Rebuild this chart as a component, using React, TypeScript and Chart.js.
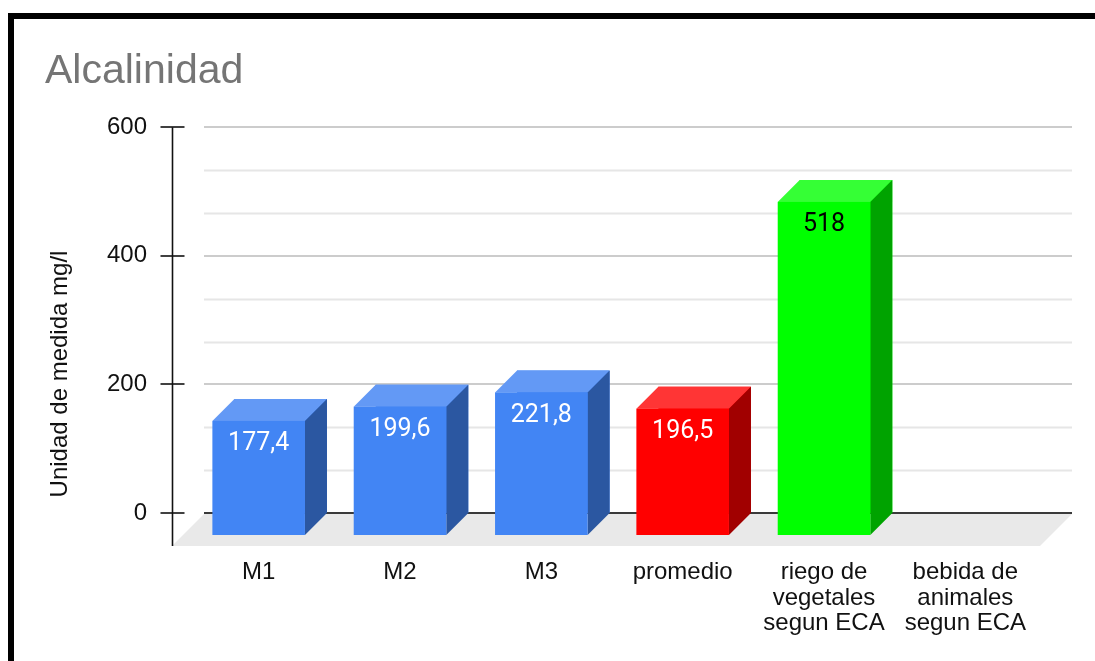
import React, { useEffect, useRef } from 'react';
import { Chart, registerables } from 'chart.js';

Chart.register(...registerables);

// ---- data ----
const chartTitle = 'Alcalinidad';
const yAxisTitle = 'Unidad de medida mg/l';
const categories: (string | string[])[] = [
  'M1',
  'M2',
  'M3',
  'promedio',
  ['riego de', 'vegetales', 'segun ECA'],
  ['bebida de', 'animales', 'segun ECA'],
];
const values: (number | null)[] = [177.4, 199.6, 221.8, 196.5, 518, null];
const yMin = 0;
const yMax = 600;
const yStep = 200;

// ---- colours ----
const frontColors = ['#4285F4', '#4285F4', '#4285F4', '#FF0000', '#00FF00', '#00FF00'];
const topColors = ['#6399F5', '#6399F5', '#6399F5', '#FF3535', '#35FF35', '#35FF35'];
const sideColors = ['#2B57A1', '#2B57A1', '#2B57A1', '#A10000', '#00A300', '#00A300'];
const labelColors = ['#FFFFFF', '#FFFFFF', '#FFFFFF', '#FFFFFF', '#000000', '#000000'];

const DEPTH = 22; // bar extrusion
const FLOOR = 32; // floor depth
const SANS = '"Liberation Sans", Arial, sans-serif';

const formatValue = (v: number) => String(v).replace('.', ',');

const threeDPlugin = {
  id: 'threeD',
  beforeDatasetsDraw(chart: any) {
    const { ctx, chartArea: ca } = chart;
    const y = chart.scales.y;
    const left = ca.left - 6;
    const right = ca.right + 14;
    const y0 = y.getPixelForValue(yMin);
    ctx.save();
    // minor gridlines
    const minorStep = yStep / 3;
    for (let v = yMin; v < yMax; v += yStep) {
      for (let k = 1; k < 3; k++) {
        const py = Math.round(y.getPixelForValue(v + k * minorStep)) + 0.5;
        ctx.strokeStyle = '#E6E6E6';
        ctx.lineWidth = 2;
        ctx.beginPath();
        ctx.moveTo(left, py);
        ctx.lineTo(right, py);
        ctx.stroke();
      }
    }
    // major gridlines
    y.ticks.forEach((t: any) => {
      if (t.value === yMin) return;
      const py = Math.round(y.getPixelForValue(t.value));
      ctx.strokeStyle = '#CCCCCC';
      ctx.lineWidth = 2;
      ctx.beginPath();
      ctx.moveTo(left, py);
      ctx.lineTo(right, py);
      ctx.stroke();
    });
    // floor
    ctx.fillStyle = '#E9E9E9';
    ctx.beginPath();
    ctx.moveTo(left, y0 + 1);
    ctx.lineTo(right, y0 + 1);
    ctx.lineTo(right - FLOOR, y0 + 1 + FLOOR);
    ctx.lineTo(left - FLOOR, y0 + 1 + FLOOR);
    ctx.closePath();
    ctx.fill();
    // zero line
    ctx.strokeStyle = '#3A3A3A';
    ctx.lineWidth = 2;
    ctx.beginPath();
    ctx.moveTo(left, Math.round(y0));
    ctx.lineTo(right, Math.round(y0));
    ctx.stroke();
    // vertical axis line + tick marks
    const ax = left - FLOOR + 0.5;
    ctx.strokeStyle = '#111111';
    ctx.lineWidth = 1.6;
    ctx.beginPath();
    ctx.moveTo(ax, y.getPixelForValue(yMax));
    ctx.lineTo(ax, y0 + 1 + FLOOR);
    ctx.stroke();
    y.ticks.forEach((t: any) => {
      const py = Math.round(y.getPixelForValue(t.value));
      ctx.beginPath();
      ctx.moveTo(ax - 12, py);
      ctx.lineTo(ax + 12, py);
      ctx.stroke();
    });
    ctx.restore();
  },
  afterDatasetsDraw(chart: any) {
    const { ctx } = chart;
    const meta = chart.getDatasetMeta(0);
    ctx.save();
    meta.data.forEach((bar: any, i: number) => {
      const v = values[i];
      if (v == null) return;
      const { x, y, base, width } = bar.getProps(['x', 'y', 'base', 'width'], true);
      const xl = x - width / 2;
      const xr = x + width / 2;
      // top face
      ctx.fillStyle = topColors[i];
      ctx.beginPath();
      ctx.moveTo(xl, y);
      ctx.lineTo(xr, y);
      ctx.lineTo(xr - DEPTH, y + DEPTH);
      ctx.lineTo(xl - DEPTH, y + DEPTH);
      ctx.closePath();
      ctx.fill();
      // side face
      ctx.fillStyle = sideColors[i];
      ctx.beginPath();
      ctx.moveTo(xr, y);
      ctx.lineTo(xr, base);
      ctx.lineTo(xr - DEPTH, base + DEPTH);
      ctx.lineTo(xr - DEPTH, y + DEPTH);
      ctx.closePath();
      ctx.fill();
      // front face
      ctx.fillStyle = frontColors[i];
      ctx.fillRect(xl - DEPTH, y + DEPTH, width, base - y);
      // value label
      ctx.fillStyle = labelColors[i];
      ctx.font = '25px Roboto, "Noto Sans", sans-serif';
      ctx.textAlign = 'center';
      ctx.textBaseline = 'middle';
      ctx.fillText(formatValue(v), x - DEPTH, y + DEPTH + 23);
    });
    ctx.restore();
  },
  afterDraw(chart: any) {
    const { ctx } = chart;
    ctx.save();
    ctx.fillStyle = '#111111';
    ctx.font = `24px ${SANS}`;
    ctx.textAlign = 'center';
    ctx.textBaseline = 'alphabetic';
    ctx.translate(67, 374);
    ctx.rotate(-Math.PI / 2);
    ctx.fillText(yAxisTitle, 0, 0);
    ctx.restore();
  },
};

export default function App() {
  const canvasRef = useRef<HTMLCanvasElement | null>(null);

  useEffect(() => {
    if (!canvasRef.current) return;
    const chart = new Chart(canvasRef.current, {
      type: 'bar',
      data: {
        labels: categories as any,
        datasets: [
          {
            data: values as any,
            backgroundColor: frontColors,
            borderWidth: 0,
            categoryPercentage: 1,
            barPercentage: 0.655,
          },
        ],
      },
      options: {
        responsive: false,
        animation: false,
        events: [],
        layout: { padding: { left: 45, right: 37, top: 0, bottom: 0 } },
        plugins: {
          legend: { display: false },
          tooltip: { enabled: false },
          title: {
            display: true,
            text: chartTitle,
            align: 'start',
            color: '#757575',
            font: { family: SANS, size: 41, weight: 'normal', lineHeight: 1.2 },
            padding: { top: 47, bottom: 31 },
          },
        },
        scales: {
          x: {
            grid: { display: false, drawTicks: false },
            border: { display: false },
            ticks: {
              color: '#111111',
              font: { family: SANS, size: 24, lineHeight: 1.06 },
              padding: 47,
              labelOffset: -DEPTH,
              maxRotation: 0,
              autoSkip: false,
            },
            afterFit: (scale: any) => {
              scale.height = 148;
              scale.paddingLeft = 0;
              scale.paddingRight = 0;
            },
          },
          y: {
            min: yMin,
            max: yMax,
            grid: { display: false, drawTicks: false },
            border: { display: false },
            ticks: {
              stepSize: yStep,
              color: '#111111',
              font: { family: SANS, size: 24 },
              padding: 63,
            },
            afterFit: (scale: any) => {
              scale.width = 165;
            },
          },
        },
      },
      plugins: [threeDPlugin],
    });
    return () => chart.destroy();
  }, []);

  return (
    <div
      style={{
        position: 'fixed',
        left: 0,
        top: 0,
        width: 1095,
        height: 661,
        overflow: 'hidden',
        background: '#FFFFFF',
      }}
    >
      <div
        style={{
          position: 'absolute',
          left: 8,
          top: 13,
          width: 1200,
          height: 800,
          borderLeft: '6px solid #000',
          borderTop: '6px solid #000',
        }}
      />
      <canvas
        ref={canvasRef}
        width={1095}
        height={661}
        style={{ position: 'absolute', left: 0, top: 0 }}
      />
    </div>
  );
}
